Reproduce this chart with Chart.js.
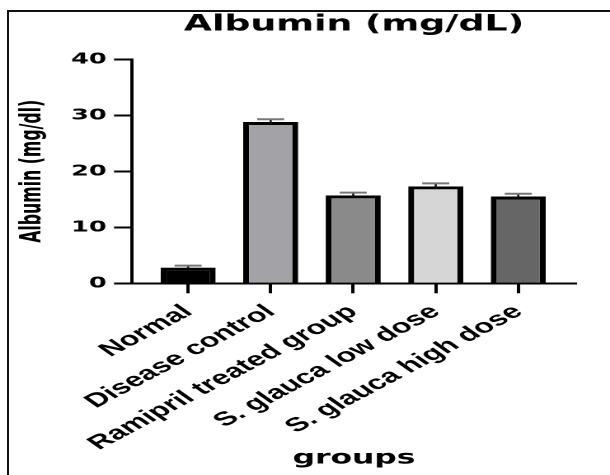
<!DOCTYPE html>
<html>
<head>
<meta charset="utf-8">
<script src="https://cdn.jsdelivr.net/npm/chart.js@4.4.1/dist/chart.umd.min.js"></script>
<style>
  html, body { margin: 0; padding: 0; background: #fff; }
  #wrap { position: relative; width: 610px; height: 475px; overflow: hidden; background: #fff; }
  #frame { position: absolute; left: 7px; top: 10px; width: 640px; height: 520px;
           border-top: 2px solid #111; border-left: 2px solid #111; pointer-events: none; }
  canvas { position: absolute; left: 0; top: 0; }
</style>
</head>
<body>
<div id="wrap">
  <canvas id="c" width="370" height="475" style="width:610px;height:475px;display:block"></canvas>
  <div id="frame"></div>
</div>
<script>
// ---- data ----
const categories = ['Normal', 'Disease control', 'Ramipril treated group', 'S. glauca low dose', 'S. glauca high dose'];
const means = [2.8, 28.8, 15.7, 17.3, 15.5];
const errors = [0.35, 0.5, 0.5, 0.55, 0.5];
const yTickValues = [0, 10, 20, 30, 40];
const barColors = ['#000000', '#a3a3a7', '#8a8a8a', '#d6d6d6', '#666666'];

const S = 610 / 370; // horizontal stretch of the drawing
const FONT = '"Liberation Sans", Arial, Helvetica, sans-serif';
const WIDE = '"DejaVu Sans", "Liberation Sans", sans-serif';
const NARROW = '"DejaVu Sans Condensed", "Liberation Sans", sans-serif';
Chart.defaults.color = '#000';
Chart.defaults.font.family = FONT;

const errorBars = {
  id: 'errorBars',
  afterDatasetsDraw(chart) {
    const {ctx, scales: {x, y}} = chart;
    ctx.save();
    means.forEach((m, i) => {
      const px = x.getPixelForValue(i);
      const yTop = y.getPixelForValue(m + errors[i]);
      const yBar = y.getPixelForValue(m);
      ctx.strokeStyle = '#111';
      ctx.lineWidth = 1.3;
      ctx.beginPath();
      ctx.moveTo(px, yBar + 2);
      ctx.lineTo(px, yTop);
      ctx.stroke();
      ctx.strokeStyle = '#777';
      ctx.lineWidth = 2;
      ctx.beginPath();
      ctx.moveTo(px - 8.2, yTop);
      ctx.lineTo(px + 8.2, yTop);
      ctx.stroke();
    });
    ctx.restore();
  }
};

new Chart(document.getElementById('c'), {
  type: 'bar',
  data: {
    datasets: [{
      data: categories.map((c, i) => ({x: i, y: means[i]})),
      backgroundColor: barColors,
      borderColor: '#000',
      borderWidth: {left: 6 / S, right: 6 / S, top: 3, bottom: 0},
      borderSkipped: false,
      barPercentage: 0.667,
      categoryPercentage: 1
    }]
  },
  options: {
    responsive: false,
    devicePixelRatio: 2,
    animation: false,
    layout: {padding: {left: 0, right: 20.6, top: 0, bottom: 0}},
    plugins: {
      legend: {display: false},
      tooltip: {enabled: false},
      title: {
        display: true,
        text: 'Albumin (mg/dL)',
        fullSize: false,
        color: '#000',
        font: {size: 22, weight: 'bold', family: WIDE, lineHeight: 1.2},
        padding: {top: 11.5, bottom: 59.3 - 11.5 - 26.4}
      }
    },
    scales: {
      x: {
        type: 'linear',
        min: -0.68,
        max: 4.70,
        offset: false,
        afterBuildTicks: (s) => { s.ticks = categories.map((c, i) => ({value: i})); },
        afterFit: (s) => { s.height = 475 - 283.3; },
        ticks: {
          autoSkip: false,
          minRotation: 41,
          maxRotation: 41,
          padding: 7,
          color: '#000',
          font: {size: 19.5, weight: 'bold', family: FONT},
          callback: (v) => categories[v]
        },
        grid: {display: true, drawOnChartArea: false, drawTicks: true, tickLength: 10, tickWidth: 2, tickColor: '#000', offset: false},
        border: {display: true, color: '#000', width: 2},
        title: {
          display: true,
          text: 'groups',
          color: '#000',
          font: {size: 19, weight: 'bold', family: WIDE, lineHeight: 1.2},
          padding: {top: 0, bottom: 5}
        }
      },
      y: {
        min: 0,
        max: 40,
        afterBuildTicks: (s) => { s.ticks = yTickValues.map(v => ({value: v})); },
        afterFit: (s) => { s.width = 132 / S; },
        ticks: {
          padding: 4.5,
          color: '#000',
          font: {size: 15.5, weight: 'bold', family: WIDE}
        },
        grid: {display: true, drawOnChartArea: false, drawTicks: true, tickLength: 10.9, tickWidth: 2, tickColor: '#000'},
        border: {display: true, color: '#000', width: 2},
        title: {
          display: true,
          text: 'Albumin (mg/dl)',
          color: '#000',
          font: {size: 17.5, weight: 'bold', family: NARROW, lineHeight: 1.2},
          padding: {top: 9.5, bottom: 0}
        }
      }
    }
  },
  plugins: [errorBars]
});
</script>
</body>
</html>
